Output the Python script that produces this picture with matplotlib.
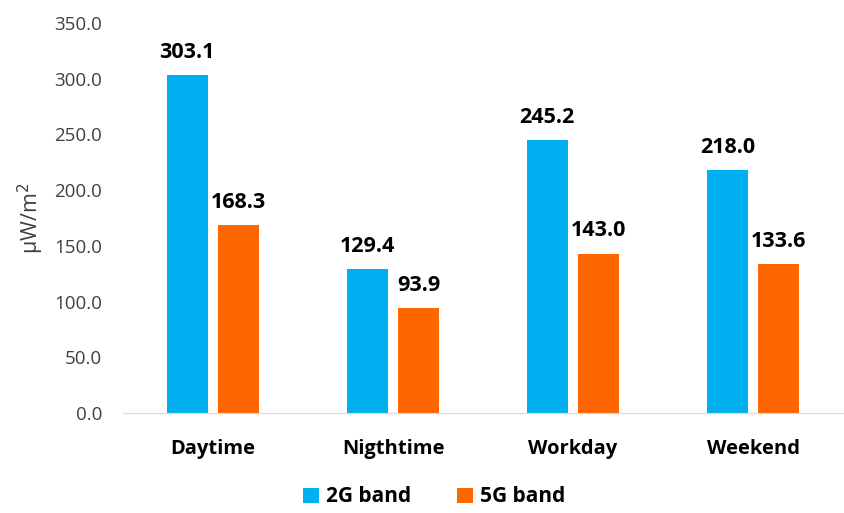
import matplotlib
matplotlib.use("Agg")
import matplotlib.pyplot as plt
import numpy as np

categories = ["Daytime", "Nigthtime", "Workday", "Weekend"]
band_2g = [303.1, 129.4, 245.2, 218.0]
band_5g = [168.3, 93.9, 143.0, 133.6]
series_names = ["2G band", "5G band"]
colors = ["#00B0F0", "#FF6600"]

plt.rcParams['font.family'] = ['Open Sans', 'DejaVu Sans']

fig = plt.figure(figsize=(8.44, 5.13), dpi=100)
ax = fig.add_axes([123/844, 100/513, 720/844, 390/513])

x = np.arange(len(categories))
w = 0.228
off = 0.143
b1 = ax.bar(x - off, band_2g, w, color=colors[0], label=series_names[0])
b2 = ax.bar(x + off, band_5g, w, color=colors[1], label=series_names[1])

for bars, vals in ((b1, band_2g), (b2, band_5g)):
    for r, v in zip(bars, vals):
        ax.text(r.get_x() + r.get_width()/2, v + 15.5, f"{v:.1f}", ha='center', va='baseline',
                fontsize=15.5, fontweight='bold', color='#000000')

ax.set_xlim(-0.5, len(categories) - 0.5)
ax.set_ylim(0, 350)
ax.set_yticks(np.arange(0, 351, 50))
ax.set_yticklabels([f"{t:.1f}" for t in np.arange(0, 351, 50)], fontsize=13.5, color='#404040')
ax.set_xticks(x)
ax.set_xticklabels(categories, fontsize=14.5, fontweight='bold', color='#000000')
ax.tick_params(axis='y', length=0, pad=15)
ax.tick_params(axis='x', length=0, pad=19)
for s in ['top', 'right', 'left']:
    ax.spines[s].set_visible(False)
ax.spines['bottom'].set_color('#D9D9D9')
ax.set_ylabel("μW/m$^2$", fontsize=15.5, color='#404040', labelpad=6)

leg = fig.legend(handles=[b1, b2], labels=series_names, loc='center',
                 bbox_to_anchor=(434.5/844, 1 - 497/513), ncol=2, frameon=False,
                 prop={'weight': 'bold', 'size': 15}, handlelength=0.75, handleheight=0.75,
                 columnspacing=2.2, handletextpad=0.35, borderpad=0.1)

fig.savefig("out.png", dpi=100)
